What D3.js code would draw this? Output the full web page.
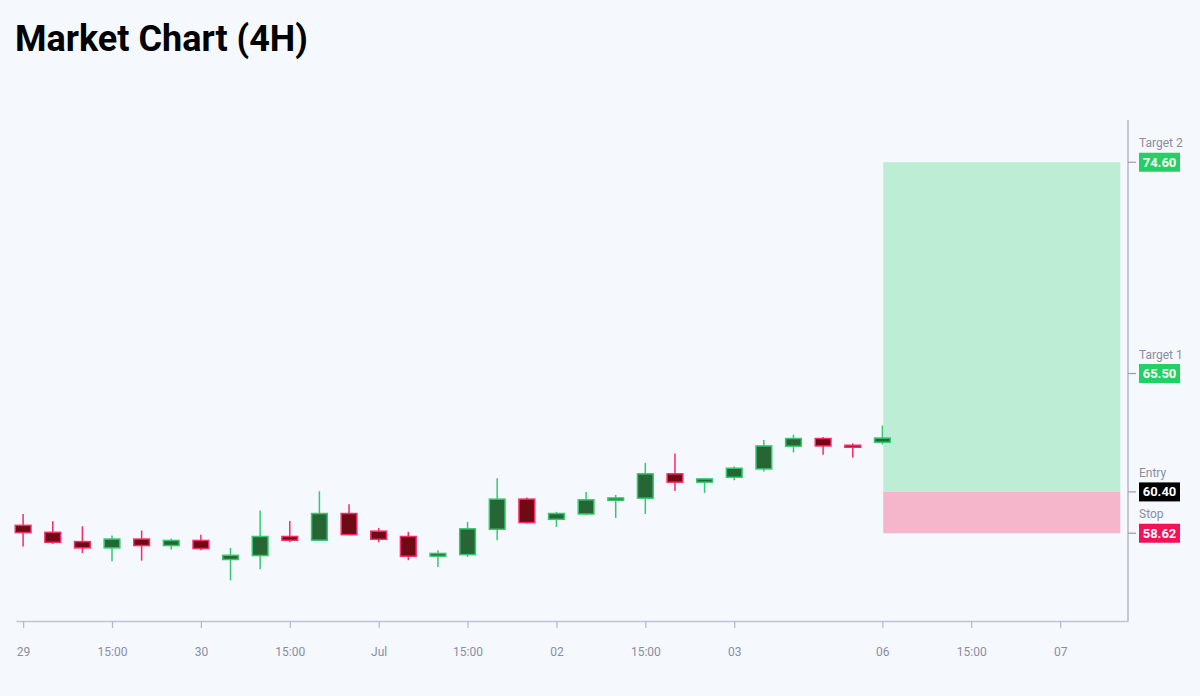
<!DOCTYPE html>
<html>
<head>
<meta charset="utf-8">
<script src="https://cdn.jsdelivr.net/npm/d3@7"></script>
<style>
  body { margin: 0; background: #f5f8fd; font-family: Roboto, "Noto Sans", sans-serif; }
</style>
</head>
<body>
<div id="chart"></div>
<script>
// candle data, one entry per 4h bar
const opens  = [58.96, 58.66, 58.26, 57.99, 58.37, 58.09, 58.31, 57.49, 57.66, 58.48, 58.32, 59.47, 58.71, 58.48, 57.63,
                57.70, 58.79, 60.09, 59.22, 59.45, 60.04, 60.13, 61.18, 60.82, 61.03, 61.39, 62.37, 62.70, 62.41, 62.54]
const highs  = [59.45, 59.14, 58.92, 58.52, 58.74, 58.39, 58.55, 57.99, 59.60, 59.15, 60.43, 59.87, 58.85, 58.68, 57.89,
                59.11, 60.99, 60.16, 59.54, 60.40, 60.27, 61.65, 62.06, 60.98, 61.50, 62.64, 62.87, 62.77, 62.49, 63.26]
const lows   = [58.05, 58.16, 57.76, 57.41, 57.44, 57.92, 57.89, 56.59, 57.07, 58.23, 58.30, 58.55, 58.23, 57.46, 57.17,
                57.60, 58.32, 59.04, 58.89, 59.40, 59.28, 59.45, 60.44, 60.36, 60.90, 61.28, 62.10, 62.00, 61.88, 62.44]
const closes = [58.65, 58.23, 57.99, 58.37, 58.09, 58.31, 57.96, 57.67, 58.48, 58.32, 59.47, 58.56, 58.36, 57.63, 57.75,
                58.81, 60.09, 59.08, 59.47, 60.06, 60.14, 61.18, 60.82, 60.96, 61.42, 62.38, 62.70, 62.38, 62.34, 62.72]

// x axis ticks (bar index) and their labels
const tickIndex  = [0, 3, 6, 9, 12, 15, 18, 21, 24, 29, 32, 35]
const tickLabels = ['29', '15:00', '30', '15:00', 'Jul', '15:00', '02', '15:00', '03', '06', '15:00', '07']

// trade levels
const levelNames  = ['Target 2', 'Target 1', 'Entry', 'Stop']
const levelValues = [74.60, 65.50, 60.40, 58.62]
const levelColors = ['#22d163', '#22d163', '#000000', '#f70f58']

const W = 1200, H = 696
const margin = { top: 120, right: 72, bottom: 75, left: 16 }
const innerW = W - margin.left - margin.right
const innerH = H - margin.top - margin.bottom

const svg = d3.select('#chart')
  .append('svg')
  .attr('width', W)
  .attr('height', H)

svg.append('text')
  .attr('x', 15)
  .attr('y', 51)
  .text('Market Chart (4H)')
  .style('font-size', '36px')
  .style('font-weight', 'bold')
  .style('fill', '#000')

const g = svg.append('g')
  .attr('transform', `translate(${margin.left},${margin.top})`)

const x = d3.scaleLinear()
  .domain([-0.24, 37.29])
  .range([0, innerW])

const y = d3.scaleLinear()
  .domain([54.84, 76.42])
  .range([innerH, 0])

const step = x(1) - x(0)
const bodyW = step * 0.53

// trade zone: reward above entry, risk below
const zoneX0 = x(29.03)
const zoneX1 = x(37.03)
g.append('rect')
  .attr('x', zoneX0)
  .attr('y', y(levelValues[0]))
  .attr('width', zoneX1 - zoneX0)
  .attr('height', y(levelValues[2]) - y(levelValues[0]))
  .style('fill', '#bdeed5')
g.append('rect')
  .attr('x', zoneX0)
  .attr('y', y(levelValues[2]))
  .attr('width', zoneX1 - zoneX0)
  .attr('height', y(levelValues[3]) - y(levelValues[2]))
  .style('fill', '#f5b5cb')

// x axis
const xAxis = g.append('g')
  .attr('transform', `translate(0,${innerH})`)
  .call(d3.axisBottom(x)
    .tickValues(tickIndex)
    .tickFormat((d, i) => tickLabels[i])
    .tickSize(7)
    .tickSizeOuter(0)
    .tickPadding(19))
xAxis.select('.domain').attr('stroke', '#c2c5cf').attr('stroke-width', 1.5)
xAxis.selectAll('.tick line').attr('stroke', '#b5b8c3').attr('stroke-width', 1.2)
xAxis.selectAll('text')
  .style('font-family', 'Roboto, sans-serif')
  .style('font-size', '12px')
  .style('fill', '#8a8da3')

// right axis line
g.append('line')
  .attr('x1', innerW).attr('x2', innerW)
  .attr('y1', 0).attr('y2', innerH)
  .attr('stroke', '#b5b8c3')
  .attr('stroke-width', 1.5)

// level labels on the right
const lvl = g.selectAll('.level')
  .data(levelValues)
  .join('g')
  .attr('class', 'level')
  .attr('transform', (d) => `translate(${innerW},${y(d)})`)
lvl.append('line')
  .attr('x1', 0).attr('x2', 8)
  .attr('stroke', '#9a9db0')
  .attr('stroke-width', 1.2)
lvl.append('rect')
  .attr('x', 11).attr('y', -9.5)
  .attr('width', 41).attr('height', 19)
  .style('fill', (d, i) => levelColors[i])
lvl.append('text')
  .attr('x', 31.5).attr('y', 4.5)
  .attr('text-anchor', 'middle')
  .text((d) => d.toFixed(2))
  .style('font-size', '13px')
  .style('font-weight', 'bold')
  .style('fill', '#fff')
lvl.append('text')
  .attr('x', 11).attr('y', -15)
  .text((d, i) => levelNames[i])
  .style('font-size', '12px')
  .style('fill', '#8a8da3')

// candles
const candles = opens.map((o, i) => ({ i, o, h: highs[i], l: lows[i], c: closes[i] }))
const up = (d) => d.c >= d.o

const cg = g.selectAll('.candle')
  .data(candles)
  .join('g')
  .attr('class', 'candle')

cg.append('line')
  .attr('x1', (d) => x(d.i)).attr('x2', (d) => x(d.i))
  .attr('y1', (d) => y(d.h)).attr('y2', (d) => y(d.l))
  .attr('stroke', (d) => up(d) ? '#34c96e' : '#fb2a68')
  .attr('stroke-width', 1.5)

cg.append('rect')
  .attr('x', (d) => x(d.i) - bodyW / 2)
  .attr('y', (d) => y(Math.max(d.o, d.c)))
  .attr('width', bodyW)
  .attr('height', (d) => Math.max(2, Math.abs(y(d.o) - y(d.c))))
  .style('fill', (d) => up(d) ? '#276535' : '#6d0a14')
  .style('stroke', (d) => up(d) ? '#34c96e' : '#fb2a68')
  .style('stroke-width', 1.5)
</script>
</body>
</html>
